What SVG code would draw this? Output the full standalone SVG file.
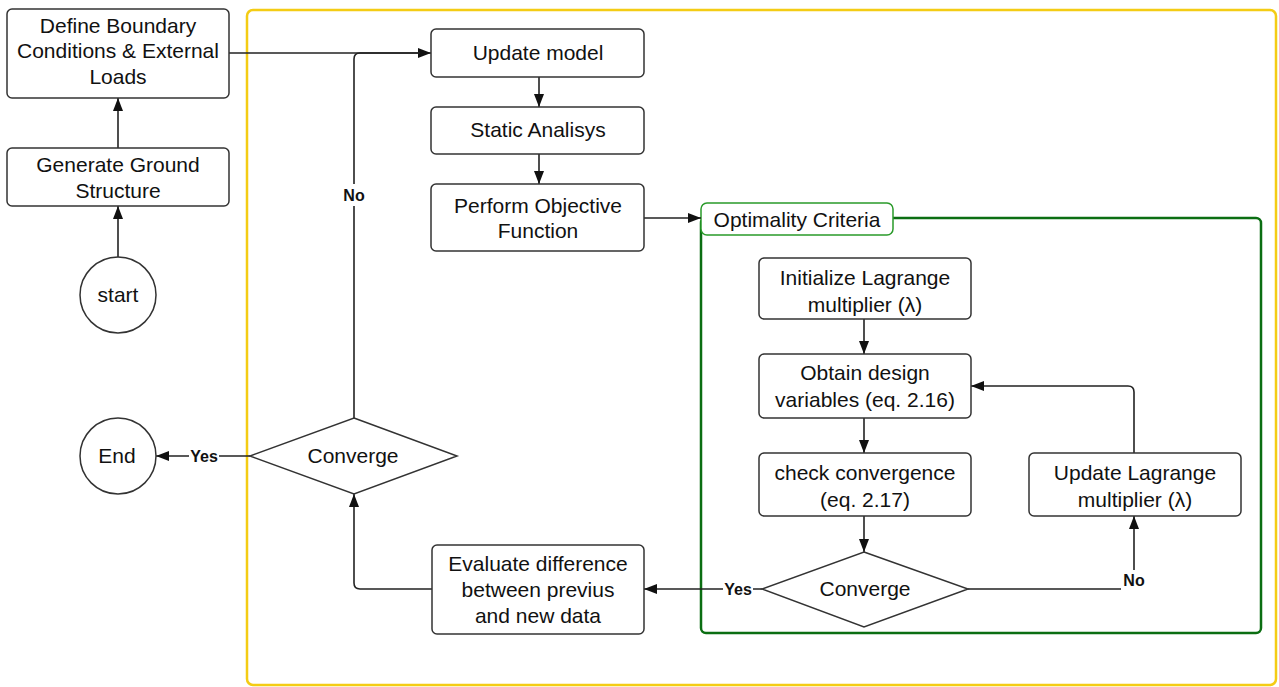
<svg xmlns="http://www.w3.org/2000/svg" width="1279" height="687" viewBox="0 0 1279 687">
<defs>
<style>
text{font-family:"Liberation Sans",Arial,sans-serif;font-size:21px;fill:#111;text-anchor:middle;dominant-baseline:central}
.lbl{font-size:16px;font-weight:bold}
.box{fill:#fff;stroke:#333;stroke-width:1.5}
.ln{fill:none;stroke:#222;stroke-width:1.6}
.bg{fill:#fff;stroke:none}
</style>
<marker id="ah" viewBox="0 0 13 10" refX="13" refY="5" markerWidth="13" markerHeight="10" markerUnits="userSpaceOnUse" orient="auto">
<path d="M0,0 L13,5 L0,10 Z" fill="#111"/>
</marker>
</defs>
<rect width="1279" height="687" fill="#fff"/>
<g id="outer-container">
<rect x="247" y="10" width="1029" height="675" rx="6" fill="none" stroke="#f4cc14" stroke-width="2.5"/>
</g>
<g id="optimality-container">
<rect x="701" y="218" width="560" height="415" rx="5" fill="none" stroke="#0b6e12" stroke-width="2.5"/>
<rect x="701" y="203" width="192" height="32" rx="6" fill="#fff" stroke="#2a9a2a" stroke-width="1.5"/>
<text x="797" y="219">Optimality Criteria</text>
</g>
<g id="connectors">
<line class="ln" x1="118" y1="257" x2="118" y2="206" marker-end="url(#ah)"/>
<line class="ln" x1="118" y1="148" x2="118" y2="98" marker-end="url(#ah)"/>
<line class="ln" x1="229" y1="53" x2="431" y2="53" marker-end="url(#ah)"/>
<path class="ln" d="M354,418 V59 Q354,53 360,53 H420"/>
<line class="ln" x1="539" y1="77" x2="539" y2="107" marker-end="url(#ah)"/>
<line class="ln" x1="539" y1="154" x2="539" y2="184" marker-end="url(#ah)"/>
<line class="ln" x1="644" y1="218" x2="701" y2="218" marker-end="url(#ah)"/>
<line class="ln" x1="864" y1="319" x2="864" y2="354" marker-end="url(#ah)"/>
<line class="ln" x1="864" y1="418" x2="864" y2="453" marker-end="url(#ah)"/>
<line class="ln" x1="864" y1="516" x2="864" y2="552" marker-end="url(#ah)"/>
<path class="ln" d="M1134,453 V392 Q1134,386 1128,386 H971" marker-end="url(#ah)"/>
<path class="ln" d="M968,589 H1134 V516" marker-end="url(#ah)"/>
<line class="ln" x1="762" y1="589" x2="644" y2="589" marker-end="url(#ah)" stroke-width="2"/>
<path class="ln" d="M432,589 H360 Q354,589 354,583 V494" marker-end="url(#ah)"/>
<line class="ln" x1="250" y1="456" x2="156" y2="456" marker-end="url(#ah)"/>
<rect class="bg" x="341" y="184" width="26" height="22"/>
<text class="lbl" x="354" y="195">No</text>
<rect class="bg" x="189" y="447" width="30" height="18"/>
<text class="lbl" x="204" y="456">Yes</text>
<rect class="bg" x="723" y="580" width="30" height="18"/>
<text class="lbl" x="738" y="589">Yes</text>
<rect class="bg" x="1121" y="570" width="26" height="20"/>
<text class="lbl" x="1134" y="580">No</text>
</g>
<g id="start">
<circle cx="118" cy="295" r="38" class="box"/>
<text x="118" y="294">start</text>
</g>
<g id="ground-structure">
<rect class="box" x="7" y="148" width="222" height="58" rx="5"/>
<text x="118" y="164">Generate Ground</text>
<text x="118" y="190">Structure</text>
</g>
<g id="boundary-conditions">
<rect class="box" x="7" y="9" width="222" height="89" rx="5"/>
<text x="118" y="25">Define Boundary</text>
<text x="118" y="50">Conditions &amp; External</text>
<text x="118" y="76">Loads</text>
</g>
<g id="update-model">
<rect class="box" x="431" y="29" width="213" height="48" rx="5"/>
<text x="538" y="52">Update model</text>
</g>
<g id="static-analysis">
<rect class="box" x="431" y="107" width="213" height="47" rx="5"/>
<text x="538" y="129">Static Analisys</text>
</g>
<g id="objective-function">
<rect class="box" x="431" y="184" width="213" height="67" rx="5"/>
<text x="538" y="205">Perform Objective</text>
<text x="538" y="230">Function</text>
</g>
<g id="init-lagrange">
<rect class="box" x="759" y="258" width="212" height="61" rx="5"/>
<text x="865" y="277">Initialize Lagrange</text>
<text x="865" y="304">multiplier (λ)</text>
</g>
<g id="design-variables">
<rect class="box" x="759" y="354" width="212" height="64" rx="5"/>
<text x="865" y="372">Obtain design</text>
<text x="865" y="399">variables (eq. 2.16)</text>
</g>
<g id="check-convergence">
<rect class="box" x="759" y="453" width="212" height="63" rx="5"/>
<text x="865" y="472">check convergence</text>
<text x="865" y="499">(eq. 2.17)</text>
</g>
<g id="update-lagrange">
<rect class="box" x="1029" y="453" width="212" height="63" rx="5"/>
<text x="1135" y="472">Update Lagrange</text>
<text x="1135" y="499">multiplier (λ)</text>
</g>
<g id="inner-converge">
<polygon class="box" points="864,552 968,589 864,627 762,589"/>
<text x="865" y="588">Converge</text>
</g>
<g id="evaluate-difference">
<rect class="box" x="432" y="545" width="212" height="89" rx="5"/>
<text x="538" y="563">Evaluate difference</text>
<text x="538" y="589">between previus</text>
<text x="538" y="615">and new data</text>
</g>
<g id="outer-converge">
<polygon class="box" points="354,418 457,456 354,494 250,456"/>
<text x="353" y="455">Converge</text>
</g>
<g id="end">
<circle cx="118" cy="456" r="38" class="box"/>
<text x="117" y="455">End</text>
</g>
</svg>
